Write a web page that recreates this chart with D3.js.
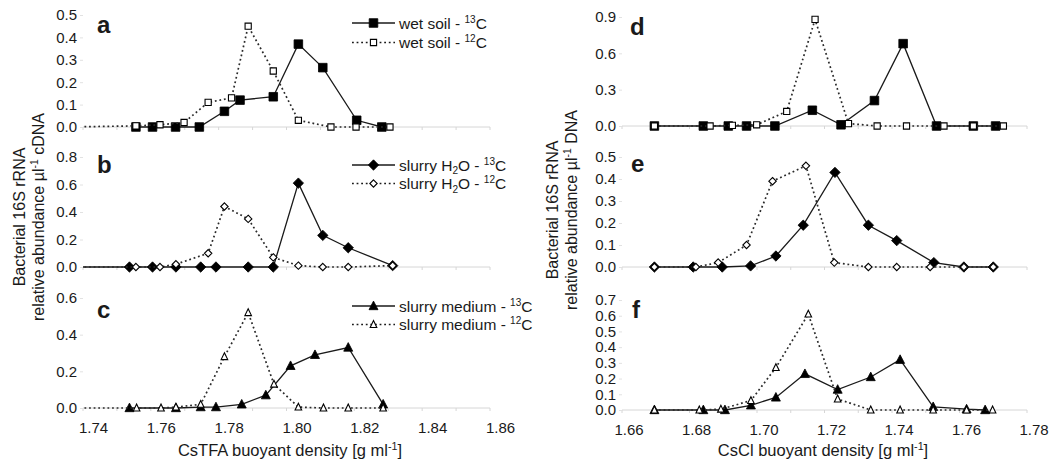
<!DOCTYPE html>
<html>
<head>
<meta charset="utf-8">
<script src="https://cdn.jsdelivr.net/npm/d3@7"></script>
<style>
  body { margin: 0; background: #fff; }
  svg { display: block; font-family: "Liberation Sans", Arial, sans-serif; }
</style>
</head>
<body>
<svg id="chart" width="1052" height="463"></svg>
<script>
// ---- data: [buoyant density, relative abundance] ----
// CsTFA gradients (left column)
const wetSoil13 = [[1.7556,0],[1.7605,0],[1.7673,0],[1.7743,0],[1.7817,0.07],[1.7863,0.12],[1.7961,0.135],[1.8035,0.37],[1.8107,0.265],[1.8207,0.03],[1.8281,0]];
const wetSoil12 = [[1.735,0],[1.7556,0.005],[1.7627,0.01],[1.7698,0.02],[1.7769,0.11],[1.7838,0.13],[1.7887,0.45],[1.7961,0.25],[1.8035,0.03],[1.8131,0],[1.8205,0],[1.8305,0]];
const slurryH2O13 = [[1.735,0],[1.7537,0],[1.7605,0],[1.7674,0],[1.7747,0],[1.7792,0],[1.7887,0],[1.7961,0],[1.8035,0.61],[1.8107,0.23],[1.8182,0.14],[1.8313,0.01]];
const slurryH2O12 = [[1.735,0],[1.7556,0],[1.7627,0],[1.7674,0.02],[1.7769,0.10],[1.7817,0.44],[1.7887,0.35],[1.7961,0.07],[1.8035,0.01],[1.8107,0],[1.8182,0],[1.8313,0.01]];
const slurryMed13 = [[1.7537,0],[1.7674,0],[1.7747,0.005],[1.7792,0.005],[1.7868,0.02],[1.7939,0.07],[1.8012,0.23],[1.8084,0.29],[1.8182,0.33],[1.8285,0.02]];
const slurryMed12 = [[1.735,0],[1.7558,0],[1.763,0],[1.7674,0.005],[1.7747,0.02],[1.7817,0.28],[1.7887,0.52],[1.7963,0.13],[1.8035,0.005],[1.8109,0],[1.8182,0],[1.8285,0]];
// CsCl gradients (right column)
const csclWet13 = [[1.6696,0],[1.6841,0],[1.6915,0],[1.6969,0],[1.7053,0],[1.7164,0.13],[1.7249,0.01],[1.7348,0.21],[1.7433,0.68],[1.7532,0],[1.7641,0],[1.7707,0]];
const csclWet12 = [[1.6696,0],[1.6861,0],[1.6927,0.005],[1.6999,0.01],[1.7088,0.12],[1.7172,0.88],[1.7271,0.02],[1.7356,0],[1.7443,0],[1.7554,0],[1.7641,0],[1.773,0]];
const csclH2O13 = [[1.6696,0],[1.6811,0],[1.6897,0],[1.6981,0.005],[1.7056,0.05],[1.7137,0.19],[1.7231,0.43],[1.733,0.19],[1.7414,0.12],[1.7524,0.02],[1.7613,0],[1.77,0]];
const csclH2O12 = [[1.6696,0],[1.6819,0],[1.6885,0.02],[1.6969,0.10],[1.7046,0.39],[1.7145,0.46],[1.7229,0.02],[1.733,0],[1.7414,0],[1.7513,0],[1.7613,0],[1.77,0]];
const csclMed13 = [[1.6696,0],[1.6841,0],[1.6905,0],[1.6982,0.03],[1.7056,0.08],[1.7142,0.23],[1.7239,0.13],[1.7337,0.21],[1.7424,0.32],[1.7522,0.02],[1.7621,0.005],[1.7676,0]];
const csclMed12 = [[1.6696,0],[1.6829,0],[1.6893,0.005],[1.6982,0.06],[1.7056,0.27],[1.7152,0.61],[1.7239,0.07],[1.7337,0],[1.7424,0],[1.7522,0],[1.7621,0],[1.7698,0]];

// tick labels
const leftXTicks = [1.74, 1.76, 1.78, 1.80, 1.82, 1.84, 1.86];
const rightXTicks = [1.66, 1.68, 1.70, 1.72, 1.74, 1.76, 1.78];
const yTicksA = [0, 0.1, 0.2, 0.3, 0.4, 0.5];
const yTicksB = [0, 0.2, 0.4, 0.6, 0.8];
const yTicksC = [0, 0.2, 0.4, 0.6];
const yTicksD = [0, 0.3, 0.6, 0.9];
const yTicksE = [0, 0.1, 0.2, 0.3, 0.4, 0.5];
const yTicksF = [0, 0.1, 0.2, 0.3, 0.4, 0.5, 0.6, 0.7];

const legendNames = ["wet soil", "slurry H2O", "slurry medium"];

const svg = d3.select("#chart");
const ink = "#1a1a1a";

// layout of the six panels
const left = { x0: 83, x1: 490, dom: [1.74, 1.86], ticks: leftXTicks, labOff: 10.5 };
const right = { x0: 622, x1: 1027, dom: [1.66, 1.78], ticks: rightXTicks, labOff: 7 };

const panels = [
  { key: "a", col: left, top: 15, bot: 127, yt: yTicksA, s13: wetSoil13, s12: wetSoil12, shape: "square", legend: 0, lx: 14, ly: 18 },
  { key: "b", col: left, top: 157, bot: 267, yt: yTicksB, s13: slurryH2O13, s12: slurryH2O12, shape: "diamond", legend: 1, lx: 14, ly: 16 },
  { key: "c", col: left, top: 298, bot: 408, yt: yTicksC, s13: slurryMed13, s12: slurryMed12, shape: "triangle", legend: 2, lx: 14, ly: 20, xlabels: true },
  { key: "d", col: right, top: 17, bot: 126, yt: yTicksD, s13: csclWet13, s12: csclWet12, shape: "square", lx: 8, ly: 18 },
  { key: "e", col: right, top: 157, bot: 267, yt: yTicksE, s13: csclH2O13, s12: csclH2O12, shape: "diamond", lx: 9, ly: 15 },
  { key: "f", col: right, top: 300, bot: 410, yt: yTicksF, s13: csclMed13, s12: csclMed12, shape: "triangle", lx: 10, ly: 18, xlabels: true }
];

function markerPath(shape, filled) {
  if (shape === "square") {
    const h = filled ? 4.3 : 3.1;
    return `M${-h},${-h}H${h}V${h}H${-h}Z`;
  }
  if (shape === "diamond") {
    const h = filled ? 5.2 : 3.7;
    return `M0,${-h}L${h},0L0,${h}L${-h},0Z`;
  }
  const w = filled ? 4.5 : 3.3, t = filled ? 4.9 : 3.9;
  return `M0,${-t}L${w},${t * 0.75}L${-w},${t * 0.75}Z`;
}

// text with sup / sub parts
function rich(sel, parts, size) {
  let shift = 0;
  parts.forEach(p => {
    const ts = sel.append("tspan").text(p.t);
    let target = 0;
    if (p.sup) target = -size * 0.38;
    if (p.sub) target = size * 0.25;
    const dy = target - shift;
    if (dy !== 0) ts.attr("dy", dy);
    shift = target;
    if (p.sup || p.sub) ts.style("font-size", (size * 0.65) + "px");
  });
}

function legendParts(i, iso) {
  if (i === 1) return [{ t: "slurry H" }, { t: "2", sub: true }, { t: "O - " }, { t: iso, sup: true }, { t: "C" }];
  return [{ t: legendNames[i] + " - " }, { t: iso, sup: true }, { t: "C" }];
}

panels.forEach((p, pi) => {
  const c = p.col;
  const x = d3.scaleLinear().domain(c.dom).range([c.x0, c.x1]);
  const yMax = p.yt[p.yt.length - 1];
  const y = d3.scaleLinear().domain([0, yMax]).range([p.bot, p.top]);
  const g = svg.append("g");

  g.append("clipPath").attr("id", "clip" + p.key)
    .append("rect").attr("x", c.x0).attr("y", p.top - 10)
    .attr("width", c.x1 - c.x0 + 10).attr("height", p.bot - p.top + 20);

  // zero line with small ticks
  g.append("line").attr("x1", c.x0).attr("x2", c.x1)
    .attr("y1", y(0)).attr("y2", y(0))
    .attr("stroke", "#d6d6d6").attr("stroke-width", 1);
  const minor = d3.range(0, 13).map(i => c.dom[0] + i * 0.01);
  g.selectAll(".mt").data(minor).enter().append("line")
    .attr("x1", d => x(d)).attr("x2", d => x(d))
    .attr("y1", y(0)).attr("y2", y(0) + 3)
    .attr("stroke", "#d6d6d6");

  // y axis labels
  const yAxis = d3.axisLeft(y).tickValues(p.yt).tickFormat(d3.format(".1f"))
    .tickSize(3).tickPadding(3);
  const ya = g.append("g").attr("transform", `translate(${c.x0},0)`).call(yAxis);
  ya.select(".domain").remove();
  ya.selectAll(".tick line").attr("stroke", "#e2e2e2");
  ya.selectAll(".tick text").attr("fill", ink)
    .style("font-size", "15px").style("font-family", "Liberation Sans, Arial, sans-serif");

  // x labels under bottom panels
  if (p.xlabels) {
    g.selectAll(".xl").data(c.ticks).enter().append("text")
      .attr("x", d => x(d) + c.labOff).attr("y", p.bot + 25)
      .attr("text-anchor", "middle").attr("fill", ink)
      .style("font-size", "15px")
      .text(d => d3.format(".2f")(d));
  }

  // panel letter
  g.append("text").attr("x", c.x0 + p.lx).attr("y", p.top + p.ly)
    .style("font-size", "24px").style("font-weight", "bold").attr("fill", ink)
    .text(p.key);

  const line = d3.line().x(d => x(d[0])).y(d => y(d[1]));
  const plot = g.append("g").attr("clip-path", `url(#clip${p.key})`);

  [[p.s13, true], [p.s12, false]].forEach(([data, filled]) => {
    plot.append("path").datum(data).attr("d", line)
      .attr("fill", "none").attr("stroke", filled ? ink : "#2a2a2a")
      .attr("stroke-width", filled ? 1.3 : 1.7)
      .attr("stroke-dasharray", filled ? null : "1.8,2.8");
    plot.selectAll(null).data(data).enter().append("path")
      .attr("transform", d => `translate(${x(d[0])},${y(d[1])})`)
      .attr("d", markerPath(p.shape, filled))
      .attr("fill", filled ? "#000" : "#fff")
      .attr("stroke", "#000").attr("stroke-width", filled ? 0.8 : 1.1);
  });

  // legend
  if (p.legend !== undefined) {
    const rows = [{ iso: "13", filled: true }, { iso: "12", filled: false }];
    const y0 = p.legend === 0 ? 23 : p.top + 8;
    const gap = p.legend === 0 ? 19.5 : 18.5;
    rows.forEach((r, i) => {
      const ly = y0 + i * gap;
      g.append("line").attr("x1", 352).attr("x2", 395).attr("y1", ly).attr("y2", ly)
        .attr("stroke", ink).attr("stroke-width", r.filled ? 1.3 : 1.7)
        .attr("stroke-dasharray", r.filled ? null : "1.8,2.8");
      g.append("path").attr("transform", `translate(373.5,${ly})`)
        .attr("d", markerPath(p.shape, r.filled))
        .attr("fill", r.filled ? "#000" : "#fff").attr("stroke", "#000")
        .attr("stroke-width", r.filled ? 0.8 : 1.1);
      const t = g.append("text").attr("x", 399).attr("y", ly + 5.5)
        .attr("fill", ink).style("font-size", "15.5px");
      rich(t, legendParts(p.legend, r.iso), 15.5);
    });
  }
});

// y titles
function yTitle(cx1, cx2, cy, unit) {
  svg.append("text").attr("transform", `translate(${cx1},${cy}) rotate(-90)`)
    .attr("text-anchor", "middle").attr("fill", ink).style("font-size", "16px")
    .text("Bacterial 16S rRNA");
  const t = svg.append("text").attr("transform", `translate(${cx2},${cy}) rotate(-90)`)
    .attr("text-anchor", "middle").attr("fill", ink).style("font-size", "16px");
  rich(t, [{ t: "relative abundance µl" }, { t: "-1", sup: true }, { t: " " + unit }], 16);
}
yTitle(25, 44, 217, "cDNA");
yTitle(558, 577, 210, "DNA");

// x titles
function xTitle(cx, label) {
  const t = svg.append("text").attr("x", cx).attr("y", 456)
    .attr("text-anchor", "middle").attr("fill", ink).style("font-size", "16.5px");
  rich(t, [{ t: label + " buoyant density [g ml" }, { t: "-1", sup: true }, { t: "]" }], 16.5);
}
xTitle(290, "CsTFA");
xTitle(823, "CsCl");
</script>
</body>
</html>
